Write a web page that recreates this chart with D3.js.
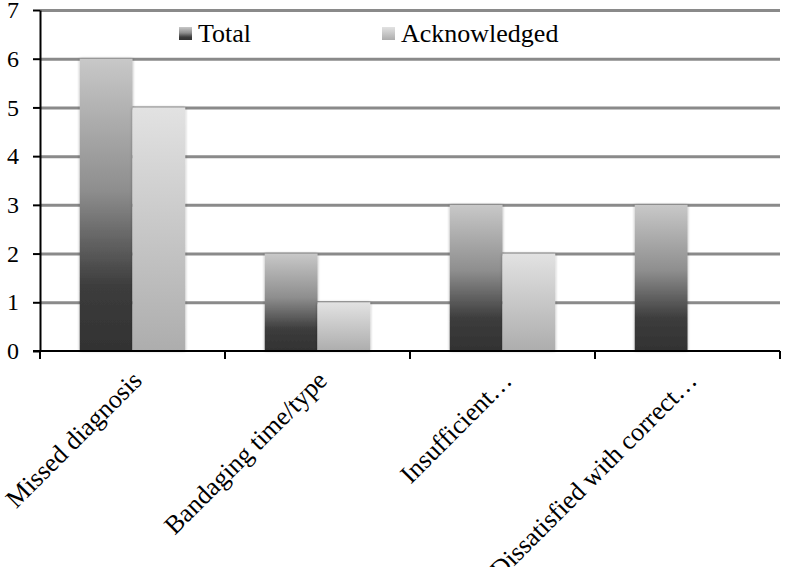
<!DOCTYPE html>
<html>
<head>
<meta charset="utf-8">
<script src="https://cdn.jsdelivr.net/npm/d3@7"></script>
<style>
  body { margin: 0; background: #fff; }
  svg text { font-family: "Liberation Serif", "Times New Roman", serif; }
</style>
</head>
<body>
<div id="chart"></div>
<script>
var categories = ["Missed diagnosis", "Bandaging time/type", "Insufficient…", "Dissatisfied with correct…"];
var seriesNames = ["Total", "Acknowledged"];
var totalValues = [6, 2, 3, 3];
var acknowledgedValues = [5, 1, 2, 0];
var yTicks = [0, 1, 2, 3, 4, 5, 6, 7];

var width = 786, height = 567;
var plot = { left: 40, right: 780, top: 10, bottom: 351 };

var svg = d3.select("#chart").append("svg")
    .attr("width", width)
    .attr("height", height);

var defs = svg.append("defs");

// bar gradients
var gTotal = defs.append("linearGradient")
    .attr("id", "grad-total")
    .attr("x1", 0).attr("y1", 0).attr("x2", 0).attr("y2", 1);
gTotal.append("stop").attr("offset", "0%").attr("stop-color", "#c8c8c8");
gTotal.append("stop").attr("offset", "45%").attr("stop-color", "#8e8e8e");
gTotal.append("stop").attr("offset", "78%").attr("stop-color", "#3c3c3c");
gTotal.append("stop").attr("offset", "100%").attr("stop-color", "#323232");

var gAck = defs.append("linearGradient")
    .attr("id", "grad-ack")
    .attr("x1", 0).attr("y1", 0).attr("x2", 0).attr("y2", 1);
gAck.append("stop").attr("offset", "0%").attr("stop-color", "#e2e2e2");
gAck.append("stop").attr("offset", "100%").attr("stop-color", "#adadad");

var shadow = defs.append("filter")
    .attr("id", "soft")
    .attr("x", "-10%").attr("y", "-5%").attr("width", "120%").attr("height", "110%");
shadow.append("feGaussianBlur").attr("in", "SourceAlpha").attr("stdDeviation", 1.6).attr("result", "blur");
shadow.append("feComponentTransfer").attr("in", "blur").attr("result", "fade")
    .append("feFuncA").attr("type", "linear").attr("slope", 0.35);
var merge = shadow.append("feMerge");
merge.append("feMergeNode").attr("in", "fade");
merge.append("feMergeNode").attr("in", "SourceGraphic");

var fills = ["url(#grad-total)", "url(#grad-ack)"];

var y = d3.scaleLinear()
    .domain([0, 7])
    .range([plot.bottom, plot.top]);

var x0 = d3.scaleBand()
    .domain(categories)
    .range([plot.left, plot.right])
    .paddingInner(0.43)
    .paddingOuter(0.215);

var x1 = d3.scaleBand()
    .domain(seriesNames)
    .range([0, x0.bandwidth()]);

// gridlines
svg.append("g")
    .attr("class", "grid")
    .attr("transform", "translate(" + plot.left + ",0)")
    .call(d3.axisLeft(y).tickValues(yTicks.slice(1)).tickSize(-(plot.right - plot.left)).tickFormat(""))
    .call(function(g){ g.select(".domain").remove(); })
    .selectAll("line")
    .attr("stroke", "#8a8a8a")
    .attr("stroke-width", 3);

// bars
var rows = categories.map(function(c, i){
    return { cat: c, vals: [totalValues[i], acknowledgedValues[i]] };
});

var groups = svg.append("g").selectAll("g")
    .data(rows)
    .enter()
    .append("g")
    .attr("transform", function(d){ return "translate(" + x0(d.cat) + ",0)"; });

groups.selectAll("rect")
    .data(function(d){ return d.vals.map(function(v, j){ return { name: seriesNames[j], v: v, j: j }; }); })
    .enter()
    .filter(function(d){ return d.v > 0; })
    .append("rect")
    .attr("x", function(d){ return x1(d.name); })
    .attr("y", function(d){ return y(d.v); })
    .attr("width", x1.bandwidth())
    .attr("height", function(d){ return y(0) - y(d.v); })
    .attr("fill", function(d){ return fills[d.j]; })
    .attr("filter", "url(#soft)");

// y axis
var yAxis = svg.append("g")
    .attr("transform", "translate(" + plot.left + ",0)")
    .call(d3.axisLeft(y).tickValues(yTicks).tickFormat(d3.format("d")).tickSize(7).tickSizeOuter(0).tickPadding(14));
yAxis.select(".domain").attr("stroke", "#000").attr("stroke-width", 2);
yAxis.selectAll(".tick line").attr("stroke", "#000").attr("stroke-width", 2);
yAxis.selectAll(".tick text")
    .attr("font-size", "24px")
    .attr("fill", "#000")
    .style("font-family", "Liberation Serif");

// x axis with boundary ticks
var step = x0.step();
var start = x0(categories[0]) - x0.paddingOuter() * step;
var bounds = d3.range(categories.length + 1).map(function(i){ return start + i * step; });

var xAxis = svg.append("g");
xAxis.append("line")
    .attr("x1", plot.left - 7).attr("x2", plot.right)
    .attr("y1", y(0)).attr("y2", y(0))
    .attr("stroke", "#000").attr("stroke-width", 2);
xAxis.selectAll("line.bt")
    .data(bounds)
    .enter()
    .append("line")
    .attr("class", "bt")
    .attr("x1", function(d){ return d; }).attr("x2", function(d){ return d; })
    .attr("y1", y(0)).attr("y2", y(0) + 8)
    .attr("stroke", "#000").attr("stroke-width", 2);

xAxis.selectAll("text")
    .data(categories)
    .enter()
    .append("text")
    .attr("transform", function(d){
        var cx = x0(d) + x0.bandwidth() / 2 + 11;
        return "translate(" + cx + "," + (y(0) + 31) + ") rotate(-45)";
    })
    .attr("text-anchor", "end")
    .attr("font-size", "26px")
    .attr("fill", "#000")
    .text(function(d){ return d; });

// legend
var legendX = [179, 382];
var legend = svg.append("g").selectAll("g")
    .data(seriesNames)
    .enter()
    .append("g")
    .attr("transform", function(d, i){ return "translate(" + legendX[i] + ",27)"; });

legend.append("rect")
    .attr("width", 13).attr("height", 13)
    .attr("fill", function(d, i){ return fills[i]; });

legend.append("text")
    .attr("x", 19)
    .attr("y", 15)
    .attr("font-size", "26px")
    .attr("fill", "#000")
    .text(function(d){ return d; });
</script>
</body>
</html>
